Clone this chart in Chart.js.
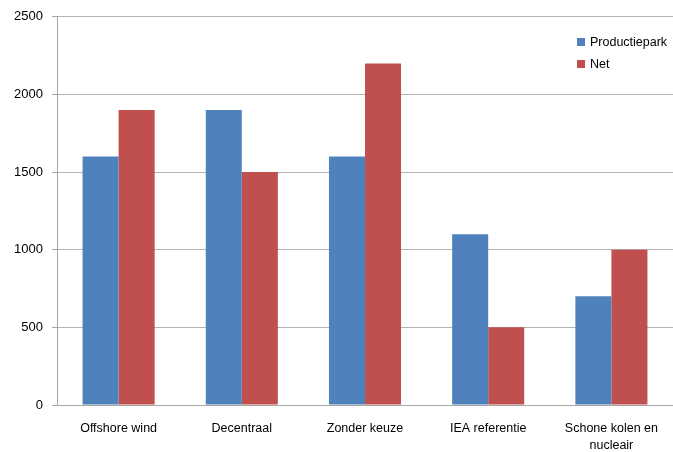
<!DOCTYPE html>
<html>
<head>
<meta charset="utf-8">
<script src="https://cdn.jsdelivr.net/npm/chart.js@4/dist/chart.umd.min.js"></script>
<style>
  html, body { margin: 0; padding: 0; background: #fff; }
  #wrap { width: 673px; height: 452px; position: relative; }
</style>
</head>
<body>
<div id="wrap"><canvas id="c"></canvas></div>
<script>
// Scenario categories and the two series per scenario
const categories = ['Offshore wind', 'Decentraal', 'Zonder keuze', 'IEA referentie', ['Schone kolen en', 'nucleair']];
const productiepark = [1600, 1900, 1600, 1100, 700];
const net = [1900, 1500, 2200, 500, 1000];
const seriesNames = ['Productiepark', 'Net'];
const yTicks = [0, 500, 1000, 1500, 2000, 2500];

const FAMILY = '"Liberation Sans", Arial, sans-serif';
const LABEL_FONT = { family: FAMILY, size: 12.5, lineHeight: 1.35 };
const Y_FONT = { family: FAMILY, size: 13 };

// Legend drawn inside the plot area, top-right
const innerLegend = {
  id: 'innerLegend',
  afterDraw(chart) {
    const ctx = chart.ctx;
    const x = 577, y0 = 42, step = 22;
    ctx.save();
    ctx.font = LABEL_FONT.size + 'px ' + FAMILY;
    ctx.textBaseline = 'middle';
    chart.data.datasets.forEach((ds, i) => {
      const y = y0 + i * step;
      ctx.fillStyle = ds.backgroundColor;
      ctx.fillRect(x, y - 4, 8, 8);
      ctx.fillStyle = '#000';
      ctx.fillText(ds.label, x + 13, y + 1);
    });
    ctx.restore();
  }
};

new Chart(document.getElementById('c'), {
  type: 'bar',
  data: {
    labels: categories,
    datasets: [
      { label: seriesNames[0], data: productiepark, backgroundColor: '#4F81BD' },
      { label: seriesNames[1], data: net, backgroundColor: '#C0504D' }
    ]
  },
  options: {
    responsive: true,
    maintainAspectRatio: false,
    animation: false,
    layout: { padding: { top: 16, right: 0, left: 0, bottom: 0 } },
    plugins: { legend: { display: false }, tooltip: { enabled: false } },
    datasets: { bar: { categoryPercentage: 0.585, barPercentage: 1.0 } },
    scales: {
      x: {
        grid: { display: false },
        border: { display: true, color: '#a6a6a6', width: 1 },
        ticks: { color: '#000', font: LABEL_FONT, padding: 7, maxRotation: 0, autoSkip: false },
        afterFit(scale) { scale.height = 47; }
      },
      y: {
        min: 0, max: 2500,
        afterBuildTicks(scale) { scale.ticks = yTicks.map(v => ({ value: v })); },
        grid: { color: '#b3b3b3', lineWidth: 1, tickLength: 5, tickColor: '#a6a6a6' },
        border: { display: true, color: '#a6a6a6', width: 1 },
        ticks: { color: '#000', font: Y_FONT, padding: 9, callback: v => String(v) },
        afterFit(scale) { scale.width = 57; }
      }
    }
  },
  plugins: [innerLegend]
});
</script>
</body>
</html>
